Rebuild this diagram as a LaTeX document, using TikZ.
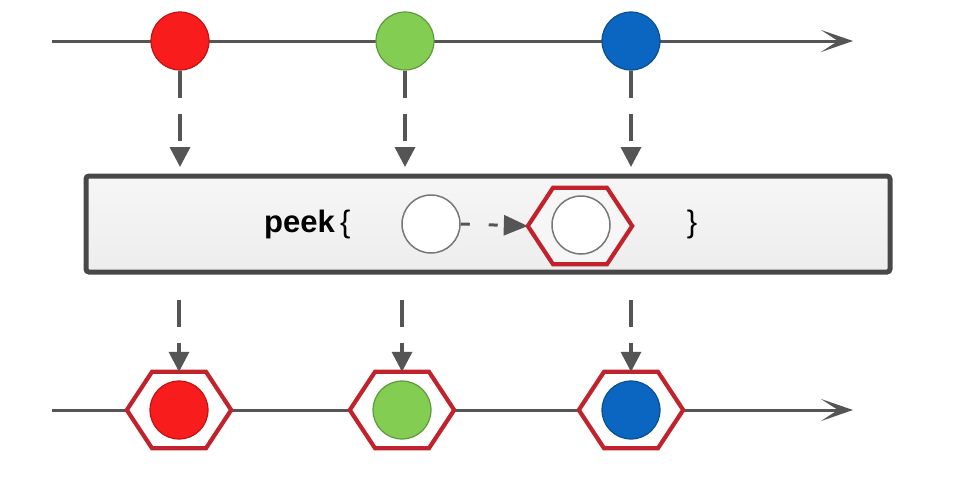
\documentclass[tikz,border=0pt]{standalone}
\usepackage{fontspec}
\setmainfont{Liberation Sans}
\usetikzlibrary{arrows.meta,calc}
\definecolor{linegray}{HTML}{555555}
\definecolor{boxgray}{HTML}{484848}
\definecolor{boxfill}{HTML}{F6F6F6}
\definecolor{boxfillb}{HTML}{EDEDED}
\definecolor{hexred}{HTML}{C0232B}
\definecolor{ballred}{HTML}{F81C1C}
\definecolor{ballredd}{HTML}{C01414}
\definecolor{ballgreen}{HTML}{82CD52}
\definecolor{ballgreend}{HTML}{5E9A3C}
\definecolor{ballblue}{HTML}{0A66C0}
\definecolor{ballblued}{HTML}{0A4F90}
\tikzset{
  ball/.style={circle, minimum size=58pt, inner sep=0pt, line width=1.2pt},
  hexbox/.style={rectangle, minimum width=104pt, minimum height=76pt, inner sep=0pt},
  hexline/.style={draw=hexred, line width=4.2pt, line join=miter},
  timeline/.style={draw=linegray, line width=3pt, -{Stealth[length=32pt,width=22pt,inset=17pt]}},
  flowarrow/.style={draw=linegray, line width=3.5pt, dash pattern=on 27pt off 16pt,
    -{Triangle[length=20pt,width=20pt]}},
  smallarrow/.style={draw=linegray, line width=3pt, dash pattern=on 9pt off 19pt,
    -{Triangle[length=24pt,width=20pt]}},
  opbox/.style={rectangle, draw=boxgray, line width=5pt, rounded corners=3pt,
    top color=boxfill, bottom color=boxfillb, minimum width=804pt, minimum height=96pt}
}
\newcommand{\hexpath}[2]{%
  \path[hexline,fill=#2] (#1.west) -- ([xshift=-27pt]#1.north) -- ([xshift=27pt]#1.north)
   -- (#1.east) -- ([xshift=27pt]#1.south) -- ([xshift=-27pt]#1.south) -- cycle;}
\begin{document}
\begin{tikzpicture}[x=1pt,y=-1pt]
\useasboundingbox[fill=white] (0,0) rectangle (956,488);
% top timeline
\coordinate (t0) at (52,41);
\coordinate (t1) at (853,41);
\draw[timeline] (t0) -- (t1);
\node[ball, fill=ballred, draw=ballredd] (r1) at (180,41) {};
\node[ball, fill=ballgreen, draw=ballgreend] (g1) at (405,41) {};
\node[ball, fill=ballblue, draw=ballblued] (b1) at (631,41) {};
% operator box
\node[opbox] (box) at (488,224) {};
\coordinate (a1) at (180,167);
\coordinate (a2) at (405,167);
\coordinate (a3) at (631,167);
\draw[flowarrow] (r1.south) -- (a1);
\draw[flowarrow] (g1.south) -- (a2);
\draw[flowarrow] (b1.south) -- (a3);
\node[anchor=west, inner sep=0pt, font=\fontsize{31}{31}\selectfont] (peek) at (264,224) {\textbf{peek}\,\{};
\node[inner sep=0pt, font=\fontsize{31}{31}\selectfont] (close) at (692,224) {\}};
\node[ball, fill=white, draw=linegray!80, line width=1.5pt] (w1) at (431,224) {};
\node[hexbox] (hx) at (580,226) {};
\hexpath{hx}{boxfill}
\node[ball, fill=white, draw=linegray!80, line width=1.5pt] (w2) at (581,225) {};
\draw[smallarrow] (w1.east) -- (hx.west);
% bottom timeline
\coordinate (s0) at (52,410);
\coordinate (s1) at (853,410);
\draw[timeline] (s0) -- (s1);
\node[hexbox] (h1) at (179,410) {};
\node[hexbox] (h2) at (402,410) {};
\node[hexbox] (h3) at (631,410) {};
\hexpath{h1}{white}
\hexpath{h2}{white}
\hexpath{h3}{white}
\node[ball, fill=ballred, draw=ballredd] (r2) at (h1) {};
\node[ball, fill=ballgreen, draw=ballgreend] (g2) at (h2) {};
\node[ball, fill=ballblue, draw=ballblued] (b2) at (h3) {};
\draw[flowarrow, shorten <=25pt] (box.south -| h1.north) -- (h1.north);
\draw[flowarrow, shorten <=25pt] (box.south -| h2.north) -- (h2.north);
\draw[flowarrow, shorten <=25pt] (box.south -| h3.north) -- (h3.north);
\end{tikzpicture}
\end{document}
